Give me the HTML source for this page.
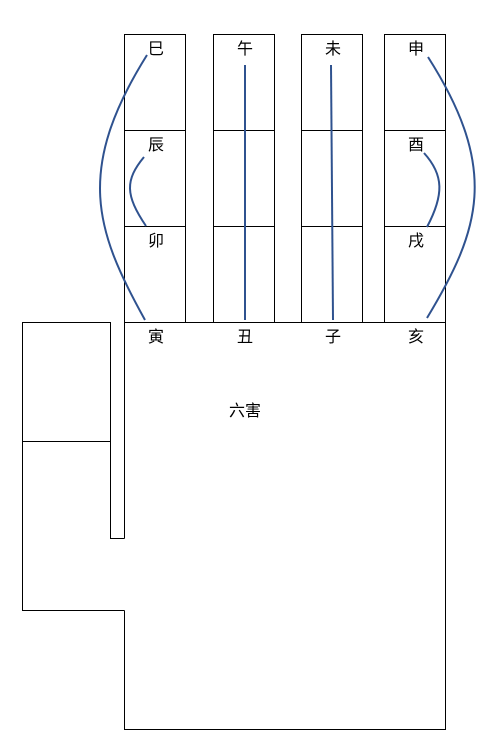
<!DOCTYPE html>
<html><head><meta charset="utf-8"><style>
html,body{margin:0;padding:0;background:#fff;width:497px;height:748px;overflow:hidden}
svg text{font-family:"Liberation Sans","Noto Sans CJK SC",sans-serif;font-size:16px;fill:#000}
</style></head><body>
<svg width="497" height="748">
<g fill="none" stroke="#000" stroke-width="1">
<rect x="124.5" y="34.5" width="61" height="288"/>
<line x1="124.5" y1="130.5" x2="185.5" y2="130.5"/><line x1="124.5" y1="226.5" x2="185.5" y2="226.5"/>
<rect x="213.5" y="34.5" width="61" height="288"/>
<line x1="213.5" y1="130.5" x2="274.5" y2="130.5"/><line x1="213.5" y1="226.5" x2="274.5" y2="226.5"/>
<rect x="301.5" y="34.5" width="61" height="288"/>
<line x1="301.5" y1="130.5" x2="362.5" y2="130.5"/><line x1="301.5" y1="226.5" x2="362.5" y2="226.5"/>
<rect x="384.5" y="34.5" width="61" height="288"/>
<line x1="384.5" y1="130.5" x2="445.5" y2="130.5"/><line x1="384.5" y1="226.5" x2="445.5" y2="226.5"/>
<path d="M124.5 538.5 V322.5 H445.5 V729.5 H124.5 V610.5"/>
<path d="M124.5 538.5 H110.5 V322.5 H22.5 V610.5 H124.5"/>
<line x1="22.5" y1="441.5" x2="110.5" y2="441.5"/>
</g>
<g fill="none" stroke="#2F528F" stroke-width="2">
<path d="M147 55 C75 170,95 230,145 320"/>
<path d="M144 157 C125 180,125 195,146 226"/>
<line x1="245" y1="65" x2="245" y2="320"/>
<line x1="331" y1="65" x2="333" y2="320"/>
<path d="M428 57 C500 170,480 230,427 318"/>
<path d="M424 153 C444 175,444 195,427 227"/>
</g>
<g text-anchor="middle">
<text x="156" y="54">巳</text>
<text x="156" y="150">辰</text>
<text x="156" y="246">卯</text>
<text x="156" y="342">寅</text>
<text x="245" y="54">午</text>
<text x="245" y="342">丑</text>
<text x="333" y="54">未</text>
<text x="333" y="342">子</text>
<text x="416" y="54">申</text>
<text x="416" y="150">酉</text>
<text x="416" y="246">戌</text>
<text x="416" y="342">亥</text>
<text x="245" y="416">六害</text>
</g>
</svg>
</body></html>
